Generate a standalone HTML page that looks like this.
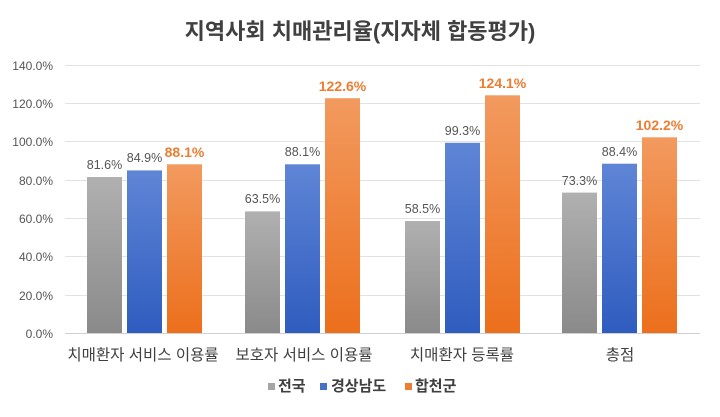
<!DOCTYPE html>
<html><head><meta charset="utf-8"><style>
body{margin:0;background:#fff}
svg{display:block;font-family:"Liberation Sans","Noto Sans CJK KR",sans-serif}
</style></head><body>
<svg width="720" height="417" viewBox="0 0 720 417" xmlns="http://www.w3.org/2000/svg">
<defs>
<linearGradient id="g" x1="0" y1="0" x2="0" y2="1"><stop offset="0" stop-color="#b0b0b0"/><stop offset="1" stop-color="#8a8a8a"/></linearGradient>
<linearGradient id="b" x1="0" y1="0" x2="0" y2="1"><stop offset="0" stop-color="#5f85d6"/><stop offset="1" stop-color="#2f5cbf"/></linearGradient>
<linearGradient id="o" x1="0" y1="0" x2="0" y2="1"><stop offset="0" stop-color="#f29a5f"/><stop offset="1" stop-color="#ec6f1c"/></linearGradient>
</defs>
<text x="360" y="39" text-anchor="middle" font-size="22" font-weight="bold" fill="#404040">지역사회 치매관리율(지자체 합동평가)</text>
<g stroke="#e2e2e2" stroke-width="1">
<line x1="65" x2="700" y1="65.5" y2="65.5"/><line x1="65" x2="700" y1="103.5" y2="103.5"/>
<line x1="65" x2="700" y1="141.5" y2="141.5"/><line x1="65" x2="700" y1="180.5" y2="180.5"/>
<line x1="65" x2="700" y1="218.5" y2="218.5"/><line x1="65" x2="700" y1="256.5" y2="256.5"/>
<line x1="65" x2="700" y1="295.5" y2="295.5"/>
</g>
<line x1="65" x2="700" y1="333.5" y2="333.5" stroke="#d0d0d0"/>
<g font-size="12" fill="#555" text-anchor="end">
<text x="53" y="70">140.0%</text><text x="53" y="108">120.0%</text><text x="53" y="146">100.0%</text>
<text x="53" y="185">80.0%</text><text x="53" y="223">60.0%</text><text x="53" y="261">40.0%</text>
<text x="53" y="300">20.0%</text><text x="53" y="338">0.0%</text>
</g>
<g>
<rect x="87" y="177" width="35" height="156" fill="url(#g)"/>
<rect x="127" y="170.4" width="35" height="162.6" fill="url(#b)"/>
<rect x="167" y="164.3" width="35" height="168.7" fill="url(#o)"/>
<rect x="245" y="211.4" width="35" height="121.6" fill="url(#g)"/>
<rect x="285" y="164.3" width="35" height="168.7" fill="url(#b)"/>
<rect x="325" y="98.2" width="35" height="234.8" fill="url(#o)"/>
<rect x="405" y="221" width="35" height="112" fill="url(#g)"/>
<rect x="445" y="142.8" width="35" height="190.2" fill="url(#b)"/>
<rect x="485" y="95.3" width="35" height="237.7" fill="url(#o)"/>
<rect x="562" y="192.6" width="35" height="140.4" fill="url(#g)"/>
<rect x="602" y="163.7" width="35" height="169.3" fill="url(#b)"/>
<rect x="642" y="137.3" width="35" height="195.7" fill="url(#o)"/>
</g>
<g font-size="12.5" fill="#555" text-anchor="middle">
<text x="104.5" y="169">81.6%</text><text x="144.5" y="162">84.9%</text>
<text x="262.5" y="203">63.5%</text><text x="302.5" y="156">88.1%</text>
<text x="422.5" y="213">58.5%</text><text x="462.5" y="135">99.3%</text>
<text x="579.5" y="185">73.3%</text><text x="619.5" y="156">88.4%</text>
</g>
<g font-size="14" font-weight="bold" fill="#ed7d31" text-anchor="middle">
<text x="184.5" y="157">88.1%</text><text x="342.5" y="91">122.6%</text>
<text x="502.5" y="88">124.1%</text><text x="659.5" y="130">102.2%</text>
</g>
<g font-size="15.5" fill="#404040" text-anchor="middle">
<text x="143" y="360">치매환자 서비스 이용률</text>
<text x="304" y="360">보호자 서비스 이용률</text>
<text x="462" y="360">치매환자 등록률</text>
<text x="620" y="360">총점</text>
</g>
<rect x="268" y="383" width="7" height="7" fill="#a5a5a5"/>
<text x="278" y="391" font-size="15" font-weight="bold" fill="#404040">전국</text>
<rect x="320" y="383" width="7" height="7" fill="#4472c4"/>
<text x="331" y="391" font-size="15" font-weight="bold" fill="#404040">경상남도</text>
<rect x="405" y="383" width="7" height="7" fill="#ed7d31"/>
<text x="415" y="391" font-size="15" font-weight="bold" fill="#404040">합천군</text>
</svg>
</body></html>
